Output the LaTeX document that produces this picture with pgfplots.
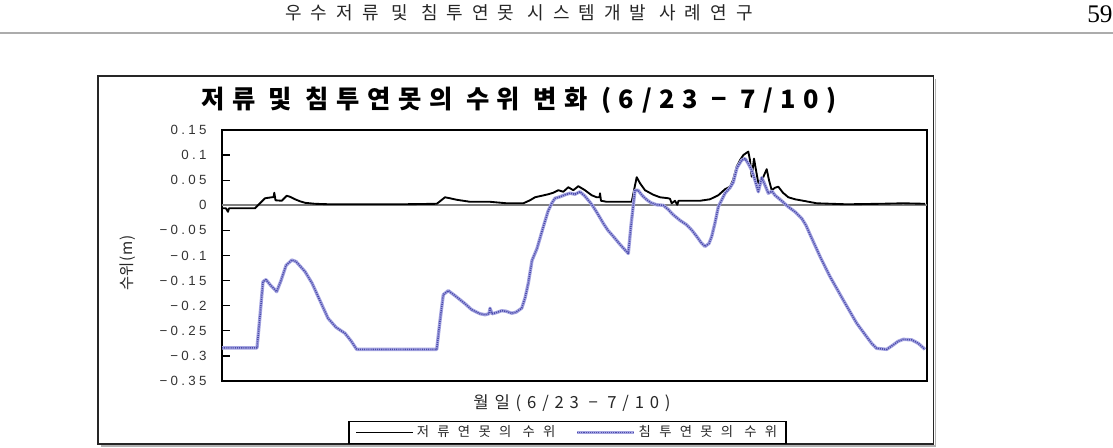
\documentclass[border=0pt]{standalone}
\usepackage{pgfplots}
\pgfplotsset{compat=1.18}
\usepackage{fontspec}
\setmainfont{Liberation Sans}
\newfontfamily\krls{Noto Sans CJK KR}[LetterSpace=62]
\newfontfamily\krx{Noto Sans CJK KR}[LetterSpace=35]
\newfontfamily\kry{Noto Sans CJK KR}[LetterSpace=5]
\newfontfamily\krt{Noto Sans CJK KR}[LetterSpace=30]
\newfontfamily\krh{Noto Sans CJK KR}[LetterSpace=50]
\newfontfamily\numls{Liberation Sans}[LetterSpace=25]
\newfontfamily\serifn{Liberation Serif}
\definecolor{lav}{RGB}{165,165,225}
\definecolor{dblue}{RGB}{75,75,170}

\pgfplotstableread{
x y
222 -0.006
226 -0.006
228 -0.013
229 -0.006
255 -0.006
260 0.004
265 0.014
271.7 0.016
273.5 0.016
274.3 0.025
275.5 0.010
281.7 0.009
286.7 0.019
290 0.017
295 0.012
300 0.008
305 0.005
315 0.003
330 0.002
360 0.002
400 0.002
436.7 0.003
440 0.008
445 0.016
450 0.014
456.7 0.011
470 0.007
490 0.007
506.7 0.004
523.3 0.004
530 0.010
535 0.016
541.7 0.019
548.3 0.022
553.3 0.025
558.3 0.030
563.3 0.027
568.3 0.036
573.3 0.030
578.3 0.038
585 0.030
591.7 0.020
596.7 0.016
599.5 0.016
600 0.024
601 0.009
606.7 0.007
631.7 0.007
634 0.030
636.7 0.056
640 0.044
645 0.030
653.3 0.021
660 0.016
668.3 0.014
670 0.013
671.7 0.004
675 0.009
677.3 0.001
678.5 0.009
681.7 0.009
700 0.009
710 0.012
718.3 0.020
725 0.032
730 0.037
733 0.050
736.7 0.077
740 0.090
743.3 0.100
748.3 0.107
750 0.090
751.7 0.057
754 0.093
756 0.070
758.3 0.044
763 0.055
766.7 0.072
769 0.050
771.7 0.030
775 0.035
778.3 0.037
783 0.025
788.3 0.016
795 0.012
803.3 0.009
816.7 0.004
846.7 0.002
880 0.003
903.3 0.004
925 0.003
}\storage

\pgfplotstableread{
x y
222 -0.284
257 -0.284
260 -0.220
263 -0.152
266 -0.148
270 -0.158
276.7 -0.172
281 -0.150
286 -0.120
291.7 -0.109
296 -0.112
305 -0.132
312 -0.155
320 -0.190
328 -0.225
336 -0.243
345 -0.255
351 -0.270
356.7 -0.287
436.7 -0.287
440 -0.230
443.3 -0.178
448.3 -0.170
455 -0.180
465 -0.196
471.7 -0.208
480 -0.216
485 -0.218
489 -0.216
490 -0.205
492 -0.216
496 -0.214
501.7 -0.210
506 -0.211
511.7 -0.215
516 -0.213
521.7 -0.205
525 -0.185
528.3 -0.155
532 -0.110
537 -0.086
543.3 -0.043
548 -0.012
551.7 0.004
555 0.014
560 0.017
565 0.021
570 0.024
575 0.022
580 0.027
585 0.018
590 0.006
593.3 -0.003
598 -0.018
603.3 -0.036
608 -0.050
613.3 -0.062
620 -0.078
628.3 -0.096
631 -0.040
635 0.030
638 0.030
642 0.020
646.7 0.011
651 0.005
656.7 0.001
663.3 0.000
668 -0.008
673.3 -0.019
680 -0.030
686.7 -0.039
692 -0.050
696.7 -0.062
701 -0.074
705 -0.082
709 -0.076
711.7 -0.062
715 -0.035
718.3 -0.003
725 0.024
730 0.035
733.3 0.046
737 0.075
741.7 0.090
745 0.093
748 0.084
751.7 0.070
755 0.050
758.3 0.027
761.7 0.055
764 0.045
768.3 0.024
772 0.028
775 0.020
781 0.010
788.3 -0.003
795 -0.013
801.7 -0.026
806 -0.040
810 -0.058
815 -0.080
820 -0.102
830 -0.142
843.3 -0.189
856.7 -0.235
866.7 -0.262
872 -0.276
876.7 -0.285
886.7 -0.287
893.3 -0.278
898 -0.271
903.3 -0.267
911.7 -0.268
918.3 -0.275
925 -0.287
}\infil

\begin{document}
\begin{tikzpicture}
\useasboundingbox (0,0) rectangle (834.75pt,-336pt);
\begin{scope}[x=0.75pt,y=-0.75pt]
\node[text=black!85, inner sep=0pt] at (519,13) {\krh\fontsize{13.5}{15}\selectfont 우수저류 및 침투연못 시스템개발 사례연구};
\node[anchor=west, inner sep=0pt] at (1087,14) {\serifn\fontsize{19}{21}\selectfont 59};
\draw[gray!65, line width=2.2pt] (0,33) -- (1113,33);
\draw[gray!60, line width=1.2pt] (101,446) -- (935.5,446) -- (935.5,79);
\draw[black!85, line width=1.3pt] (98,76) rectangle (933.5,444);
\node[inner sep=0pt] at (519,100) {\krt\bfseries\fontsize{19}{21}\selectfont 저류 및 침투연못의 수위 변화 (6/23 − 7/10)};
\node[inner sep=0pt, rotate=90, text=black!85] at (128,263) {\kry\fontsize{11.5}{12}\selectfont 수위(m)};
\node[inner sep=0pt, text=black!85] at (572,403) {\krx\fontsize{12.5}{14}\selectfont 월일(6/23 − 7/10)};
\end{scope}
\begin{axis}[
  at={(166.5pt,-285.75pt)}, anchor=south west,
  width=528.75pt, height=188.25pt, scale only axis,
  xmin=222, xmax=927, ymin=-0.35, ymax=0.15,
  xtick=\empty,
  ytick={-0.35,-0.3,-0.25,-0.2,-0.15,-0.1,-0.05,0,0.05,0.1,0.15},
  yticklabels={−0.35,−0.3,−0.25,−0.2,−0.15,−0.1,−0.05,0,0.05,0.1,0.15},
  yticklabel style={font=\numls\fontsize{10}{11}\selectfont, text=black!80, xshift=-8pt},
  ytick pos=left, tick align=inside, major tick length=6pt,
  tick style={black, line width=1pt},
  axis line style={black, line width=1.3pt},
  clip=false,
  legend columns=2,
  legend style={at={(0.49,-0.205)}, anchor=center, draw=black, line width=1.1pt,
    font=\krls\fontsize{10}{11}\selectfont, inner xsep=4.5pt, inner ysep=1.2pt, text=black!85,
    /tikz/every even column/.append style={column sep=13pt}},
  legend image code/.code={\draw[#1] (0pt,0pt) -- (43pt,0pt);},
]
\addplot[gray, line width=1.3pt, forget plot] coordinates {(222,0) (927,0)};
\addplot[black, line width=1.4pt, line join=round] table[x=x,y=y] {\storage};
\addlegendentry{저류연못의 수위}
\addplot[lav, line width=2.5pt, line join=round,
  postaction={draw=dblue, line width=1.2pt, dash pattern=on 0.8pt off 0.8pt}] table[x=x,y=y] {\infil};
\addlegendentry{침투연못의 수위}
\end{axis}
\end{tikzpicture}
\end{document}
